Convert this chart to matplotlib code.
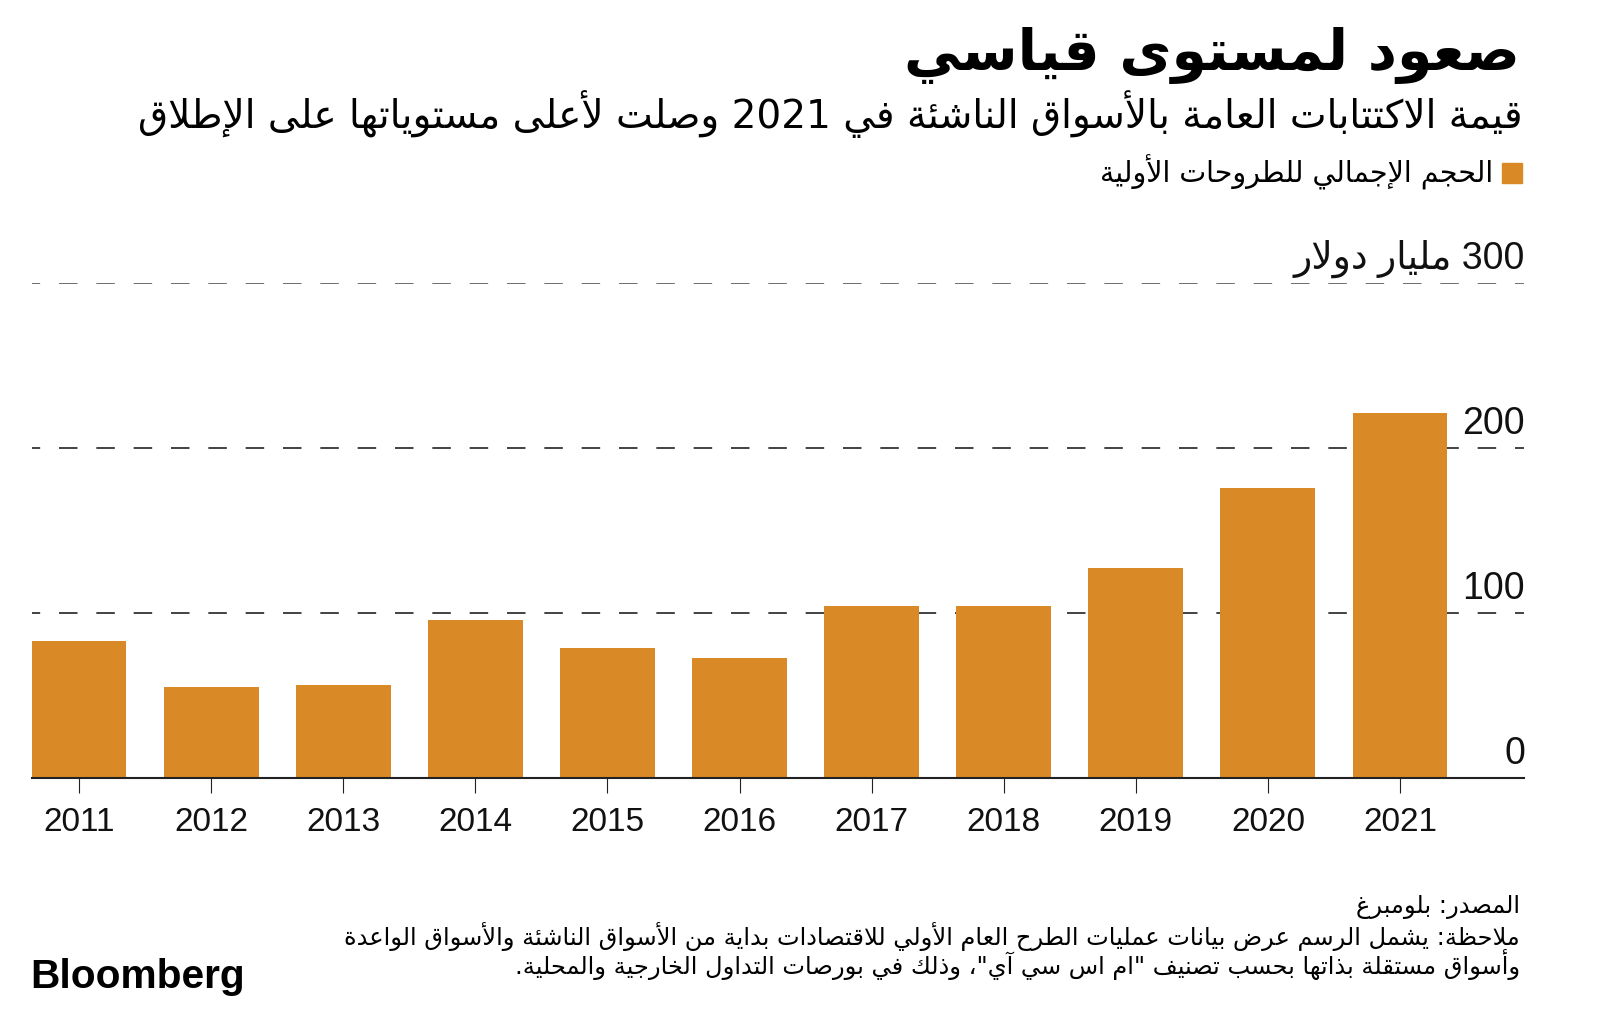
import re
import numpy as np
import matplotlib
matplotlib.use("Agg")
import matplotlib.pyplot as plt

# --- data ---
years = ["2011", "2012", "2013", "2014", "2015", "2016", "2017", "2018", "2019", "2020", "2021"]
ipo_volume = [83, 55, 56.5, 96, 79, 73, 104, 104, 127.5, 175.5, 221]
y_ticks = [0, 100, 200, 300]
y_tick_labels = ["0", "100", "200", "300 مليار دولار"]

title = "صعود لمستوى قياسي"
subtitle = "قيمة الاكتتابات العامة بالأسواق الناشئة في 2021 وصلت لأعلى مستوياتها على الإطلاق"
legend_label = "الحجم الإجمالي للطروحات الأولية"
source = "المصدر: بلومبرغ"
note_lines = [
    "ملاحظة: يشمل الرسم عرض بيانات عمليات الطرح العام الأولي للاقتصادات بداية من الأسواق الناشئة والأسواق الواعدة",
    "وأسواق مستقلة بذاتها بحسب تصنيف \"ام اس سي آي\"، وذلك في بورصات التداول الخارجية والمحلية.",
]

BAR = "#D98A26"
W, H = 1600, 1012

# --- minimal arabic shaping (matplotlib has no complex text layout) ---
_base = [
    ("\u0621", 0xFE80, 1), ("\u0622", 0xFE81, 2), ("\u0623", 0xFE83, 2), ("\u0624", 0xFE85, 2),
    ("\u0625", 0xFE87, 2), ("\u0626", 0xFE89, 4), ("\u0627", 0xFE8D, 2), ("\u0628", 0xFE8F, 4),
    ("\u0629", 0xFE93, 2), ("\u062A", 0xFE95, 4), ("\u062B", 0xFE99, 4), ("\u062C", 0xFE9D, 4),
    ("\u062D", 0xFEA1, 4), ("\u062E", 0xFEA5, 4), ("\u062F", 0xFEA9, 2), ("\u0630", 0xFEAB, 2),
    ("\u0631", 0xFEAD, 2), ("\u0632", 0xFEAF, 2), ("\u0633", 0xFEB1, 4), ("\u0634", 0xFEB5, 4),
    ("\u0635", 0xFEB9, 4), ("\u0636", 0xFEBD, 4), ("\u0637", 0xFEC1, 4), ("\u0638", 0xFEC5, 4),
    ("\u0639", 0xFEC9, 4), ("\u063A", 0xFECD, 4), ("\u0641", 0xFED1, 4), ("\u0642", 0xFED5, 4),
    ("\u0643", 0xFED9, 4), ("\u0644", 0xFEDD, 4), ("\u0645", 0xFEE1, 4), ("\u0646", 0xFEE5, 4),
    ("\u0647", 0xFEE9, 4), ("\u0648", 0xFEED, 2), ("\u0649", 0xFEEF, 2), ("\u064A", 0xFEF1, 4),
]
FORMS = {c: (start, n) for c, start, n in _base}
LAM_ALEF = {"\u0622": 0xFEF5, "\u0623": 0xFEF7, "\u0625": 0xFEF9, "\u0627": 0xFEFB}


def shape(s):
    toks = []
    i = 0
    while i < len(s):
        if s[i] == "\u0644" and i + 1 < len(s) and s[i + 1] in LAM_ALEF:
            toks.append(("LA", s[i + 1]))
            i += 2
        else:
            toks.append((s[i], None))
            i += 1
    out = []
    for k, (c, a) in enumerate(toks):
        prev = toks[k - 1][0] if k > 0 else None
        nxt = toks[k + 1][0] if k + 1 < len(toks) else None
        join_prev = prev in FORMS and FORMS[prev][1] == 4
        if c == "LA":
            out.append(chr(LAM_ALEF[a] + (1 if join_prev else 0)))
            continue
        if c not in FORMS:
            out.append(c)
            continue
        start, n = FORMS[c]
        join_next = n == 4 and (nxt in FORMS or nxt == "LA")
        if n == 1:
            out.append(chr(start))
        elif join_prev and join_next:
            out.append(chr(start + 3))
        elif join_prev:
            out.append(chr(start + 1))
        elif join_next:
            out.append(chr(start + 2))
        else:
            out.append(chr(start))
    vis = "".join(out)[::-1]
    # numbers keep left-to-right order
    return re.sub(r"[0-9]+", lambda m: m.group(0)[::-1], vis)


fig = plt.figure(figsize=(W / 100, H / 100), dpi=100)
ax = fig.add_axes([31.6 / W, 1 - 779 / H, (1523.5 - 31.6) / W, (779 - 284) / H])

x = np.arange(len(years))
ax.bar(x, ipo_volume, width=0.718, color=BAR, zorder=3)
ax.set_xlim(-0.359, 10.935)
ax.set_ylim(0, 300)

for v in y_ticks[1:]:
    col = "#555555" if v == 300 else "#222222"
    ax.axhline(v, color=col, lw=1.2, ls=(6.2, (11.1, 11.3)), zorder=1)

for s in ["top", "left", "right"]:
    ax.spines[s].set_visible(False)
ax.spines["bottom"].set_color("#222222")
ax.spines["bottom"].set_linewidth(1.5)
ax.spines["bottom"].set_zorder(4)
ax.set_yticks([])
ax.set_xticks(x)
ax.set_xticklabels(years, fontsize=24, family="Liberation Sans", color="#111111")
ax.tick_params(axis="x", length=11, width=0.8, color="#222222", pad=9)

for v, lab in zip(y_ticks, y_tick_labels):
    ax.annotate(shape(lab), xy=(1, v), xycoords=("axes fraction", "data"),
                xytext=(1, 11), textcoords="offset points", ha="right", va="baseline",
                fontsize=27, family=["Liberation Sans", "DejaVu Sans"], color="#111111")

fig.canvas.draw()
renderer = fig.canvas.get_renderer()


def fit(t, target):
    w = t.get_window_extent(renderer).width
    t.set_fontsize(t.get_fontsize() * target / w)


def ftext(xr, yb, s, size, target=None, weight="normal"):
    t = fig.text(xr / W, 1 - yb / H, shape(s), ha="right", va="baseline",
                 fontsize=size, fontweight=weight, family="DejaVu Sans", color="#000000")
    if target:
        fit(t, target)
    return t


ftext(1520, 70, title, 34, 615, weight="bold")
ftext(1523, 128, subtitle, 26, 1383)
ftext(1493, 182, legend_label, 18, 395)
fig.patches.append(plt.Rectangle((1501.7 / W, 1 - 184 / H), 20 / W, 20 / H,
                                 transform=fig.transFigure, color=BAR))

n1 = ftext(1520, 945, note_lines[0], 16, 1177)
size = n1.get_fontsize()
ftext(1520, 974, note_lines[1], size)
ftext(1520, 913, source, size)

logo = fig.text(30 / W, 1 - 988 / H, "Bloomberg", ha="left", va="baseline", fontsize=33,
                fontweight="bold", family=["Liberation Sans Narrow", "Liberation Sans"],
                color="#000000")
fit(logo, 215)

fig.savefig("out.png", dpi=100)
